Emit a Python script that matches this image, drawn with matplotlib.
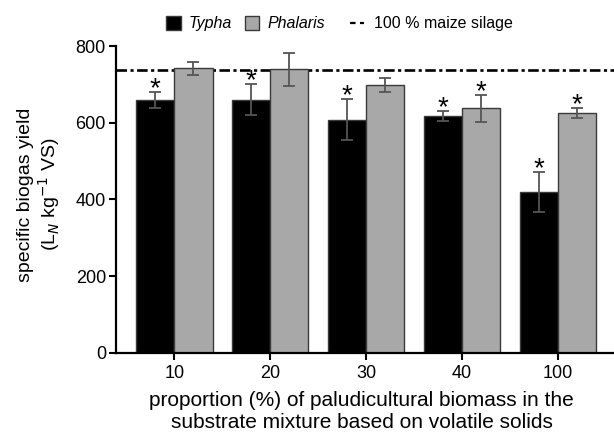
import matplotlib
matplotlib.use("Agg")
import matplotlib.pyplot as plt
from matplotlib.patches import Patch
from matplotlib.lines import Line2D
import numpy as np

plt.rcParams['font.family'] = ['Liberation Sans', 'DejaVu Sans']

# proportion of paludicultural biomass (% of VS)
proportions = ['10', '20', '30', '40', '100']

# specific biogas yield (L_N kg^-1 VS), mean and standard deviation
typha_mean = [659, 660, 608, 618, 419]
typha_sd = [20, 41, 53, 13, 52]
phalaris_mean = [742, 739, 699, 637, 625]
phalaris_sd = [17, 44, 18, 34, 12]

# reference: 100 % maize silage
maize_silage = 738

# significance markers
typha_sig = [True, True, True, True, True]
phalaris_sig = [False, False, False, True, True]

fig = plt.figure(figsize=(6.14, 4.34), dpi=100)
ax = fig.add_axes([0.1884, 0.1873, 0.8116, 0.7067])

x = np.arange(len(proportions))
w = 0.4
edge = '#3a3a3a'
err_kw = dict(ecolor='#555555', elinewidth=1.3, capsize=4, capthick=1.3)

ax.bar(x - w / 2, typha_mean, w, yerr=typha_sd, color='black',
       edgecolor=edge, linewidth=1.0, error_kw=err_kw, zorder=2)
ax.bar(x + w / 2, phalaris_mean, w, yerr=phalaris_sd, color='#a8a8a8',
       edgecolor=edge, linewidth=1.0, error_kw=err_kw, zorder=2)

ax.axhline(maize_silage, color='black', linewidth=1.9,
           linestyle=(0, (4, 1.3, 1.2, 1.3)), zorder=1)

for xs, means, sds, sigs in [(x - w / 2, typha_mean, typha_sd, typha_sig),
                             (x + w / 2, phalaris_mean, phalaris_sd, phalaris_sig)]:
    for xi, m, s, sig in zip(xs, means, sds, sigs):
        if sig:
            ax.annotate('*', (xi, m + s), xytext=(0, -3.0), textcoords='offset points',
                        ha='center', va='baseline', fontsize=20, color='black')

ax.set_xlim(-0.61, 4.585)
ax.set_ylim(0, 800)
ax.set_yticks([0, 200, 400, 600, 800])
ax.set_xticks(x)
ax.set_xticklabels(proportions)
ax.tick_params(axis='both', labelsize=13, width=1.5, length=5, direction='out',
               color='black')
ax.tick_params(axis='y', pad=2)
ax.tick_params(axis='x', pad=4)

for side in ['top', 'right']:
    ax.spines[side].set_visible(False)
for side in ['left', 'bottom']:
    ax.spines[side].set_linewidth(1.6)

ax.set_xlabel('proportion (%) of paludicultural biomass in the\n'
              'substrate mixture based on volatile solids',
              fontsize=15, linespacing=1.22)
ax.set_ylabel('specific biogas yield\n(L$_{N}$ kg$^{-1}$ VS)',
              fontsize=14, linespacing=1.1)
ax.xaxis.set_label_coords(0.494, -0.125)
ax.yaxis.set_label_coords(-0.108, 0.516)

# legend: bar series on the left, reference line on the right
bar_handles = [
    Patch(facecolor='black', edgecolor=edge, linewidth=1.0),
    Patch(facecolor='#a8a8a8', edgecolor=edge, linewidth=1.0),
]
leg1 = fig.legend(bar_handles, ['Typha', 'Phalaris'], loc='center',
                  bbox_to_anchor=(0.400, 0.945), ncol=2, frameon=False,
                  fontsize=11.5, handlelength=0.9, handleheight=0.9,
                  handletextpad=0.5, columnspacing=0.8)
for t in leg1.get_texts():
    t.set_fontstyle('italic')

line_handle = [Line2D([0], [0], color='black', linewidth=1.6, linestyle=(0, (2.5, 2)))]
fig.legend(line_handle, ['100 % maize silage'], loc='center',
           bbox_to_anchor=(0.702, 0.945), frameon=False, fontsize=11.5,
           handlelength=0.9, handletextpad=0.6)

fig.savefig('out.png', dpi=100)
